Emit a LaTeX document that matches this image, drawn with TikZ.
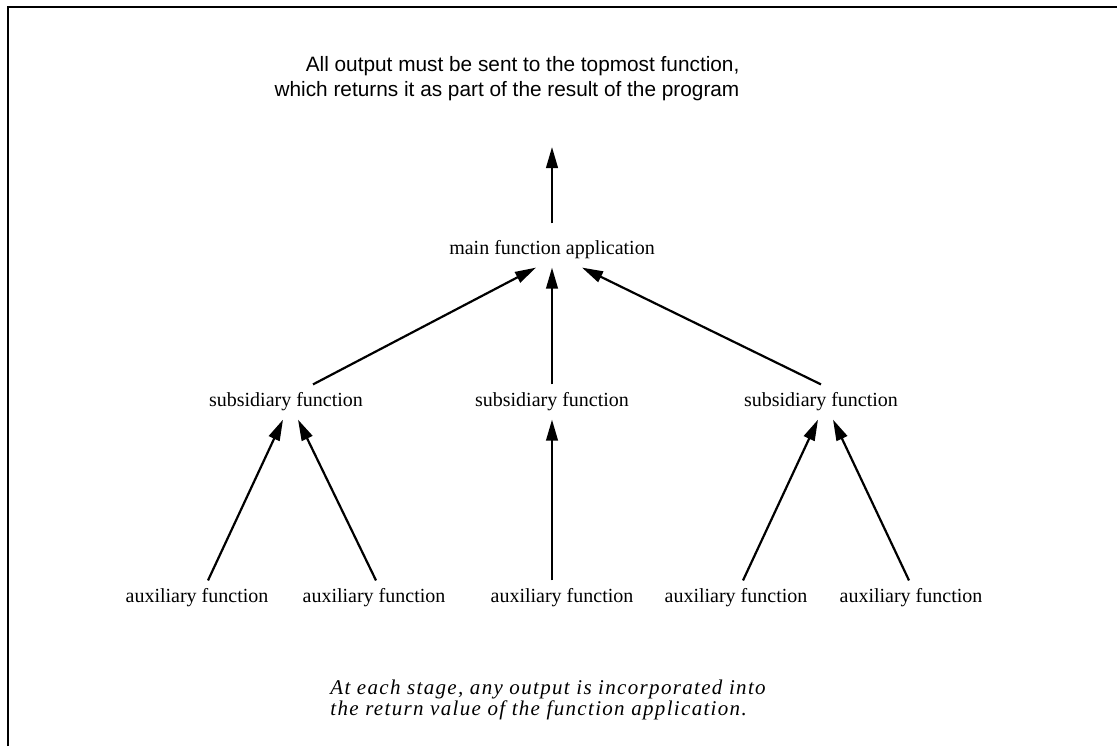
\documentclass[tikz,border=0pt]{standalone}
\usepackage{fontspec}
\setmainfont{Liberation Serif}
\newfontfamily\helvfont{Liberation Sans}
\newfontfamily\notefont[LetterSpace=6.3]{Liberation Serif}
\usetikzlibrary{arrows.meta,positioning}

\begin{document}
\begin{tikzpicture}[on grid,
  fn/.style={inner xsep=0pt,inner ysep=4pt,text height=7pt,text depth=2.2pt},
  head/.style={font=\helvfont\fontsize{10.4}{12.6}\selectfont,align=right,inner sep=0pt},
  note/.style={font=\notefont\itshape\fontsize{10.5}{8.8}\selectfont,align=left,inner sep=0pt},
  frame/.style={line width=1.2pt},
  arr/.style={-{Triangle[length=10.5pt,width=5.8pt]},line width=1.1pt}]
\useasboundingbox (0,0) rectangle (558.5pt,-373pt);
\draw[frame] (4pt,-373pt) |- (558.5pt,-3.5pt);
\node[head] (title) at (253.5pt,-39.5pt) {All output must be sent to the topmost function,\\which returns it as part of the result of the program};
\node[fn] (main) at (276pt,-125pt) {main function application};
\coordinate (out) at (276pt,-73.5pt);
\node[fn,below=76pt of main] (s2) {subsidiary function};
\node[fn,left=133pt of s2] (s1) {subsidiary function};
\node[fn,right=134.5pt of s2] (s3) {subsidiary function};
\node[fn,below left=98pt and 44.5pt of s1] (a1) {auxiliary function};
\node[fn,below right=98pt and 44pt of s1] (a2) {auxiliary function};
\node[fn,below=98pt of s2,xshift=5pt] (a3) {auxiliary function};
\node[fn,below left=98pt and 42.5pt of s3] (a4) {auxiliary function};
\node[fn,below right=98pt and 45pt of s3] (a5) {auxiliary function};
\node[note,anchor=west] (stage) at (165pt,-350pt) {At each stage, any output is incorporated into\\the return value of the function application.};
% up to the top
\draw[arr] ([yshift=4.5pt]main.north) -- (out);
\draw[arr] ([xshift=13.5pt]s1.north) -- ([xshift=-8pt]main.south);
\draw[arr] (s2) -- (main);
\draw[arr] (s3.north) -- ([xshift=15pt]main.south);
% auxiliaries
\draw[arr] ([xshift=5.5pt]a1.north) -- ([xshift=-1.5pt]s1.south);
\draw[arr] ([xshift=1pt]a2.north) -- ([xshift=6pt]s1.south);
\draw[arr] (a3.north -| s2) -- (s2);
\draw[arr] ([xshift=3.5pt]a4.north) -- ([xshift=-1.5pt]s3.south);
\draw[arr] ([xshift=-1pt]a5.north) -- ([xshift=6pt]s3.south);
\end{tikzpicture}
\end{document}
